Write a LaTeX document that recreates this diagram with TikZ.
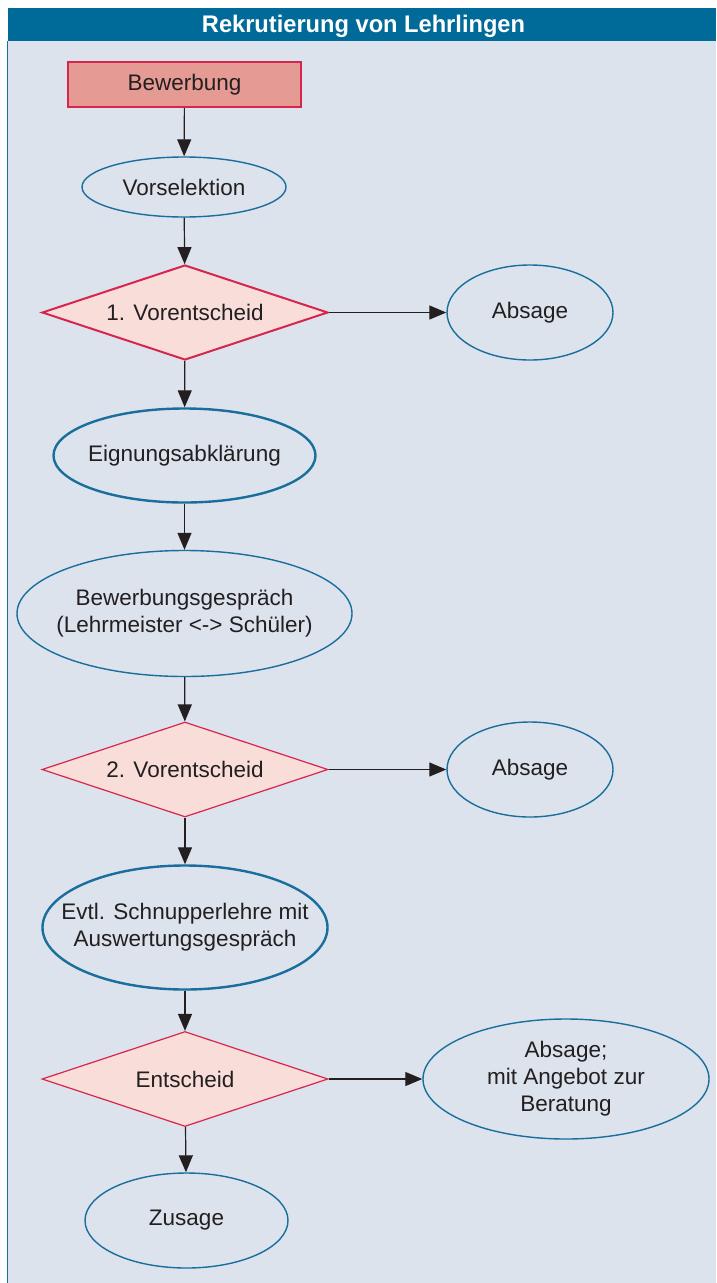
\documentclass[tikz,border=0pt]{standalone}
\usepackage{fontspec}
\usepackage{graphicx}
\setmainfont{Liberation Sans}
\usetikzlibrary{shapes.geometric,arrows.meta}
\definecolor{titlebar}{HTML}{006A99}
\definecolor{panelbg}{HTML}{DCE3EC}
\definecolor{ellblue}{HTML}{1A6E9E}
\definecolor{crim}{HTML}{D7264E}
\definecolor{dfill}{HTML}{F8DDD9}
\definecolor{rfill}{HTML}{E59B93}
\definecolor{txt}{HTML}{231F20}
\tikzset{
  base/.style={font=\fontsize{22.5}{27}\selectfont, text=txt, align=center, inner sep=0pt},
  ell/.style={base, ellipse, draw=ellblue, line width=1.4pt},
  ellthick/.style={ell, line width=2.4pt},
  etext/.style={label={[base]center:#1}},
  dia/.style={base, diamond, aspect=3, draw=crim, fill=dfill, line width=1.2pt, minimum width=286pt, minimum height=95pt},
  arr/.style={draw=txt, line width=1.2pt, -{Triangle[length=17pt,width=14pt]}},
}
\begin{document}
\begin{tikzpicture}[x=1pt,y=-1pt]
\useasboundingbox (0,0) rectangle (716,1283);
\fill[panelbg] (8,41) rectangle (716,1283);
\draw[ellblue, line width=1pt] (7.5,41) -- (7.5,1283);
\fill[titlebar] (8,8) rectangle (716,41);
\node[text=white, font=\bfseries\fontsize{24}{24}\selectfont, inner sep=0pt, anchor=base] (title) at (363.5,32.5) {\scalebox{0.985}[1]{Rekrutierung von Lehrlingen}};

\node[base, rectangle, draw=crim, fill=rfill, line width=2.4pt, minimum width=233pt, minimum height=45pt] (bew) at (184.5,84.5) {Bewerbung};
\node[ell, minimum width=204pt, minimum height=60pt, etext={Vorselektion}] (vor) at (184,187) {};
\node[dia, line width=2pt] (d1) at (185,312.5) {1. Vorentscheid};
\node[ell, minimum width=166pt, minimum height=95pt, etext={Absage}] (abs1) at (530,312.5) {};
\node[ellthick, minimum width=262pt, minimum height=94pt, etext={Eignungsabklärung}] (eig) at (184.5,455.5) {};
\node[ell, minimum width=335pt, minimum height=126pt, etext={Bewerbungsgespräch\\(Lehrmeister <-> Schüler)}] (bg) at (184.5,613.5) {};
\node[dia] (d2) at (185,769.5) {2. Vorentscheid};
\node[ell, minimum width=166pt, minimum height=95pt, etext={Absage}] (abs2) at (530,769.5) {};
\node[ellthick, minimum width=285pt, minimum height=124pt, etext={Evtl. Schnupperlehre mit\\Auswertungsgespräch}] (evt) at (185,927.5) {};
\node[dia] (d3) at (185,1079) {Entscheid};
\node[ell, minimum width=286pt, minimum height=120pt, etext={Absage;\\mit Angebot zur\\Beratung}] (abs3) at (566,1079) {};
\node[ell, minimum width=203pt, minimum height=95pt, etext={Zusage}] (zus) at (186.5,1220.5) {};

\draw[arr] (bew) -- (vor);
\draw[arr] (vor) -- (d1);
\draw[arr] (d1) -- (abs1);
\draw[arr] (d1) -- (eig);
\draw[arr] (eig) -- (bg);
\draw[arr] (bg) -- (d2);
\draw[arr] (d2) -- (abs2);
\draw[arr] (d2) -- (evt);
\draw[arr] (evt) -- (d3);
\draw[arr] (d3) -- (abs3);
\draw[arr] (d3) -- (zus);
\end{tikzpicture}
\end{document}
